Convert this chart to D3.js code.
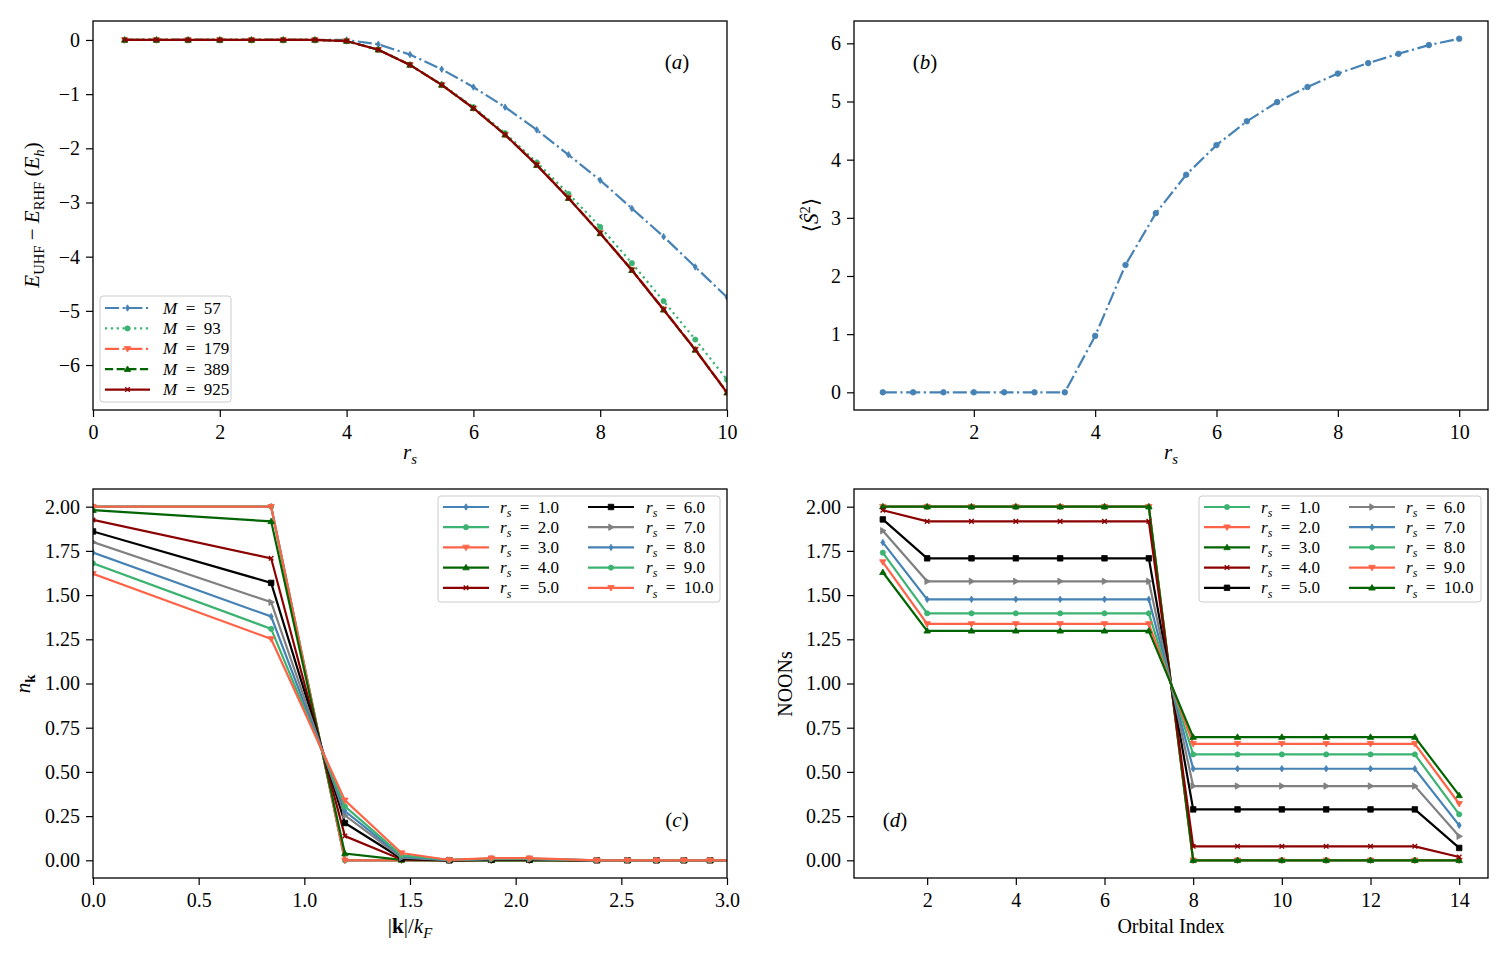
<!DOCTYPE html>
<html>
<head>
<meta charset="utf-8">
<script src="https://cdn.jsdelivr.net/npm/d3@7"></script>
<style>
	body { margin: 0; background: white; }
	text { font-family: 'Liberation Serif', 'DejaVu Serif', serif; fill: black; }
</style>
</head>
<body>
<script>
// ---- panel (a): E_UHF - E_RHF vs r_s for several basis sizes M
const rsA = [0.5, 1.0, 1.5, 2.0, 2.5, 3.0, 3.5, 4.0, 4.5, 5.0, 5.5, 6.0, 6.5, 7.0, 7.5, 8.0, 8.5, 9.0, 9.5, 10.0];
const dE_M57 = [0, 0, 0, 0, 0, 0, 0, 0, -0.08, -0.27, -0.54, -0.87, -1.24, -1.66, -2.12, -2.59, -3.11, -3.63, -4.19, -4.75];
const dE_M93 = [0, 0, 0, 0, 0, 0, 0, -0.02, -0.18, -0.46, -0.82, -1.24, -1.72, -2.26, -2.84, -3.45, -4.12, -4.82, -5.53, -6.27];
const dE_M179 = [0, 0, 0, 0, 0, 0, 0, -0.02, -0.18, -0.46, -0.83, -1.26, -1.75, -2.30, -2.91, -3.56, -4.24, -4.97, -5.71, -6.50];
const dE_M389 = [0, 0, 0, 0, 0, 0, 0, -0.02, -0.18, -0.46, -0.83, -1.26, -1.75, -2.31, -2.92, -3.57, -4.25, -4.98, -5.72, -6.51];
const dE_M925 = [0, 0, 0, 0, 0, 0, 0, -0.02, -0.18, -0.46, -0.83, -1.26, -1.75, -2.31, -2.92, -3.57, -4.25, -4.98, -5.72, -6.51];
const basisM = [57, 93, 179, 389, 925];

// ---- panel (b): <S^2> vs r_s
const s2 = [0, 0, 0, 0, 0, 0, 0, 0.97, 2.19, 3.08, 3.74, 4.25, 4.66, 4.99, 5.25, 5.48, 5.66, 5.82, 5.97, 6.08];

// ---- panel (c): momentum distribution n_k on the |k|/k_F shells
const kShell = [0, 0.843, 1.192, 1.460, 1.686, 1.885, 2.065, 2.384, 2.529, 2.666, 2.796, 2.920, 3.039];
const nk_rs1 = [2.00, 2.00, 0, 0, 0, 0, 0, 0, 0, 0, 0, 0, 0];
const nk_rs2 = [2.00, 2.00, 0, 0, 0, 0, 0, 0, 0, 0, 0, 0, 0];
const nk_rs3 = [2.00, 2.00, 0, 0, 0, 0, 0, 0, 0, 0, 0, 0, 0];
const nk_rs4 = [1.98, 1.917, 0.038, 0.002, 0, 0, 0, 0, 0, 0, 0, 0, 0];
const nk_rs5 = [1.925, 1.708, 0.137, 0.005, 0, 0.002, 0.002, 0, 0, 0, 0, 0, 0];
const nk_rs6 = [1.86, 1.569, 0.211, 0.010, 0, 0.004, 0.004, 0, 0, 0, 0, 0, 0];
const nk_rs7 = [1.80, 1.460, 0.254, 0.015, 0.001, 0.006, 0.006, 0, 0, 0, 0, 0, 0];
const nk_rs8 = [1.74, 1.379, 0.279, 0.022, 0.001, 0.008, 0.008, 0, 0, 0, 0, 0, 0];
const nk_rs9 = [1.68, 1.309, 0.305, 0.028, 0.002, 0.010, 0.010, 0, 0, 0, 0, 0, 0];
const nk_rs10 = [1.62, 1.252, 0.339, 0.041, 0.002, 0.012, 0.012, 0, 0, 0, 0, 0, 0];

// ---- panel (d): natural orbital occupation numbers
const orbIndex = [1, 2, 3, 4, 5, 6, 7, 8, 9, 10, 11, 12, 13, 14];
const noon_rs1 = [2, 2, 2, 2, 2, 2, 2, 0, 0, 0, 0, 0, 0, 0];
const noon_rs2 = [2, 2, 2, 2, 2, 2, 2, 0, 0, 0, 0, 0, 0, 0];
const noon_rs3 = [2, 2, 2, 2, 2, 2, 2, 0, 0, 0, 0, 0, 0, 0];
const noon_rs4 = [1.98, 1.917, 1.917, 1.917, 1.917, 1.917, 1.917, 0.079, 0.079, 0.079, 0.079, 0.079, 0.079, 0.019];
const noon_rs5 = [1.928, 1.708, 1.708, 1.708, 1.708, 1.708, 1.708, 0.288, 0.288, 0.288, 0.288, 0.288, 0.288, 0.070];
const noon_rs6 = [1.864, 1.578, 1.578, 1.578, 1.578, 1.578, 1.578, 0.420, 0.420, 0.420, 0.420, 0.420, 0.420, 0.136];
const noon_rs7 = [1.798, 1.476, 1.476, 1.476, 1.476, 1.476, 1.476, 0.518, 0.518, 0.518, 0.518, 0.518, 0.518, 0.198];
const noon_rs8 = [1.740, 1.397, 1.397, 1.397, 1.397, 1.397, 1.397, 0.599, 0.599, 0.599, 0.599, 0.599, 0.599, 0.260];
const noon_rs9 = [1.687, 1.337, 1.337, 1.337, 1.337, 1.337, 1.337, 0.659, 0.659, 0.659, 0.659, 0.659, 0.659, 0.320];
const noon_rs10 = [1.629, 1.298, 1.298, 1.298, 1.298, 1.298, 1.298, 0.697, 0.697, 0.697, 0.697, 0.697, 0.697, 0.367];

const rsLabels = ['1.0', '2.0', '3.0', '4.0', '5.0', '6.0', '7.0', '8.0', '9.0', '10.0'];

// colour / marker cycle used by the figure
const cycleColors = ['steelblue', 'mediumseagreen', 'tomato', 'darkgreen', 'darkred', 'black', 'gray'];
const cycleMarkers = ['d', '.', 'v', '^', 'x', 's', '>'];

const LW = 2.2;
const dashStyles = {
	'-': null,
	'-.': [6.4 * LW, 1.6 * LW, 1.0 * LW, 1.6 * LW].join(','),
	'--': [3.7 * LW, 1.6 * LW].join(','),
	':': [1.0 * LW, 1.65 * LW].join(',')
};
const EQ = '\u2002=\u2002';

const svg = d3.select('body').append('svg')
	.attr('width', 1511)
	.attr('height', 956);

function markerPath(type, s) {
	const h = s / 2;
	switch (type) {
		case 'd': return `M0,${-h}L${h * 0.62},0L0,${h}L${-h * 0.62},0Z`;
		case '.': {
			const r = h * 0.8;
			return `M${-r},0a${r},${r} 0 1,0 ${2 * r},0a${r},${r} 0 1,0 ${-2 * r},0Z`;
		}
		case 'v': return `M${-h},${-h * 0.7}L${h},${-h * 0.7}L0,${h}Z`;
		case '^': return `M${-h},${h * 0.7}L${h},${h * 0.7}L0,${-h}Z`;
		case '>': return `M${-h * 0.7},${-h}L${-h * 0.7},${h}L${h},0Z`;
		case 's': return `M${-h * 0.85},${-h * 0.85}H${h * 0.85}V${h * 0.85}H${-h * 0.85}Z`;
		case 'x': return `M${-h * 0.7},${-h * 0.7}L${h * 0.7},${h * 0.7}M${-h * 0.7},${h * 0.7}L${h * 0.7},${-h * 0.7}`;
	}
}

function drawMarker(g, type, color, cx, cy, size) {
	g.append('path')
		.attr('d', markerPath(type, size))
		.attr('transform', `translate(${cx},${cy})`)
		.attr('fill', type == 'x' ? 'none' : color)
		.attr('stroke', color)
		.attr('stroke-width', type == 'x' ? 1.4 : 0.8);
}

// text with italic / bold / sub / sup pieces, like matplotlib mathtext
function mathText(g, x, y, parts, size, anchor, rotate) {
	const t = g.append('text')
		.attr('x', x)
		.attr('y', y)
		.attr('font-size', size)
		.attr('text-anchor', anchor || 'middle');
	let shift = 0;
	parts.forEach(p => {
		let target = 0;
		if (p.sub) target = size * 0.25;
		if (p.sup) target = -size * 0.4;
		const ts = t.append('tspan').text(p.t).attr('dy', target - shift);
		shift = target;
		if (p.sub || p.sup) ts.attr('font-size', size * 0.7);
		if (p.i) ts.attr('font-style', 'italic');
		if (p.b) ts.attr('font-weight', 'bold');
	});
	if (rotate) t.attr('transform', `rotate(-90,${x},${y})`);
	return t;
}

let clipId = 0;

class Panel {
	constructor(box, xDomain, yDomain) {
		this.box = box;
		this.g = svg.append('g');
		this.x = d3.scaleLinear().domain(xDomain).range([box.left, box.right]);
		this.y = d3.scaleLinear().domain(yDomain).range([box.bottom, box.top]);
		clipId += 1;
		this.clip = 'clip' + clipId;
		this.g.append('clipPath').attr('id', this.clip)
			.append('rect')
			.attr('x', box.left).attr('y', box.top)
			.attr('width', box.right - box.left).attr('height', box.bottom - box.top);
		this.plot = this.g.append('g').attr('clip-path', `url(#${this.clip})`);
	}

	axes(xTicks, yTicks, xFmt, yFmt) {
		const xa = this.g.append('g')
			.attr('transform', `translate(0,${this.box.bottom})`)
			.call(d3.axisBottom(this.x).tickValues(xTicks).tickFormat(xFmt).tickSize(7).tickPadding(8));
		const ya = this.g.append('g')
			.attr('transform', `translate(${this.box.left},0)`)
			.call(d3.axisLeft(this.y).tickValues(yTicks).tickFormat(yFmt).tickSize(7).tickPadding(6));
		[xa, ya].forEach(a => {
			a.select('.domain').remove();
			a.selectAll('.tick line').attr('stroke', 'black').attr('stroke-width', 1.2);
			a.selectAll('.tick text')
				.attr('font-size', 20)
				.attr('font-family', "'Liberation Serif', serif")
				.attr('fill', 'black');
		});
	}

	series(xs, ys, color, marker, dash, msize) {
		const pts = xs.map((v, i) => [v, ys[i]]);
		const line = d3.line().x(d => this.x(d[0])).y(d => this.y(d[1]));
		this.plot.append('path')
			.datum(pts)
			.attr('d', line)
			.attr('fill', 'none')
			.attr('stroke', color)
			.attr('stroke-width', LW)
			.attr('stroke-dasharray', dashStyles[dash]);
		pts.forEach(d => drawMarker(this.plot, marker, color, this.x(d[0]), this.y(d[1]), msize));
	}

	frame() {
		this.g.append('rect')
			.attr('x', this.box.left).attr('y', this.box.top)
			.attr('width', this.box.right - this.box.left)
			.attr('height', this.box.bottom - this.box.top)
			.attr('fill', 'none')
			.attr('stroke', 'black')
			.attr('stroke-width', 1.3);
	}

	legendBox(x, y, w, h) {
		this.g.append('rect')
			.attr('x', x).attr('y', y).attr('width', w).attr('height', h)
			.attr('rx', 3)
			.attr('fill', 'white').attr('fill-opacity', 0.8)
			.attr('stroke', '#cccccc').attr('stroke-width', 1);
	}

	legendEntry(x0, x1, yRow, textX, color, marker, dash, parts, msize) {
		this.g.append('line')
			.attr('x1', x0).attr('x2', x1).attr('y1', yRow).attr('y2', yRow)
			.attr('stroke', color).attr('stroke-width', LW)
			.attr('stroke-dasharray', dashStyles[dash]);
		drawMarker(this.g, marker, color, (x0 + x1) / 2, yRow, msize);
		mathText(this.g, textX, yRow + 5.5, parts, 17, 'start');
	}

	tag(x, y, letter) {
		mathText(this.g, x, y, [{ t: '(' }, { t: letter, i: true }, { t: ')' }], 21, 'middle');
	}
}

const fmtInt = d3.format('d');

// ------------------------------------------------------------ (a)
const pa = new Panel({ left: 93, right: 727, top: 21, bottom: 410 }, [0, 10], [-6.83, 0.35]);
const aSeries = [dE_M57, dE_M93, dE_M179, dE_M389, dE_M925];
const aStyle = [
	['steelblue', 'd', '-.'],
	['mediumseagreen', '.', ':'],
	['tomato', 'v', '-.'],
	['darkgreen', '^', '--'],
	['darkred', 'x', '-']
];
aSeries.forEach((s, i) => pa.series(rsA, s, aStyle[i][0], aStyle[i][1], aStyle[i][2], 6.5));
pa.axes([0, 2, 4, 6, 8, 10], [0, -1, -2, -3, -4, -5, -6], fmtInt, fmtInt);
pa.frame();
pa.legendBox(100, 296, 131, 106);
basisM.forEach((m, i) => {
	const yRow = 308 + i * 20.4;
	pa.legendEntry(105, 150, yRow, 163, aStyle[i][0], aStyle[i][1], aStyle[i][2],
		[{ t: 'M', i: true }, { t: EQ + m }], 6.5);
});
pa.tag(677, 69, 'a');
mathText(pa.g, 410, 459, [{ t: 'r', i: true }, { t: 's', i: true, sub: true }], 21, 'middle');
mathText(pa.g, 39, 215, [
	{ t: 'E', i: true }, { t: 'UHF', sub: true }, { t: ' − ' },
	{ t: 'E', i: true }, { t: 'RHF', sub: true }, { t: ' (' },
	{ t: 'E', i: true }, { t: 'h', i: true, sub: true }, { t: ')' }
], 21, 'middle', true);

// ------------------------------------------------------------ (b)
const pb = new Panel({ left: 854, right: 1488, top: 21, bottom: 410 }, [0.025, 10.475], [-0.304, 6.384]);
pb.series(rsA, s2, 'steelblue', '.', '-.', 7);
pb.axes([2, 4, 6, 8, 10], [0, 1, 2, 3, 4, 5, 6], fmtInt, fmtInt);
pb.frame();
pb.tag(925, 69, 'b');
mathText(pb.g, 1171, 459, [{ t: 'r', i: true }, { t: 's', i: true, sub: true }], 21, 'middle');
mathText(pb.g, 818, 215, [{ t: '⟨' }, { t: '\u015C', i: true }, { t: '2', sup: true }, { t: '⟩' }], 21, 'middle', true);

// ------------------------------------------------------------ (c)
const pc = new Panel({ left: 93, right: 727, top: 489, bottom: 878 }, [0, 3], [-0.1, 2.1]);
const nkSeries = [nk_rs1, nk_rs2, nk_rs3, nk_rs4, nk_rs5, nk_rs6, nk_rs7, nk_rs8, nk_rs9, nk_rs10];
nkSeries.forEach((s, i) => {
	const c = i % 7;
	pc.series(kShell, s, cycleColors[c], cycleMarkers[c], '-', 6.5);
});
pc.axes([0, 0.5, 1.0, 1.5, 2.0, 2.5, 3.0], [0, 0.25, 0.5, 0.75, 1.0, 1.25, 1.5, 1.75, 2.0], d3.format('.1f'), d3.format('.2f'));
pc.frame();
pc.legendBox(438, 496, 282, 106);
rsLabels.forEach((lab, i) => {
	const c = i % 7;
	const col = Math.floor(i / 5);
	const yRow = 507 + (i % 5) * 20.2;
	const x0 = col == 0 ? 443 : 588;
	const tx = col == 0 ? 500 : 646;
	pc.legendEntry(x0, x0 + 46, yRow, tx, cycleColors[c], cycleMarkers[c], '-',
		[{ t: 'r', i: true }, { t: 's', i: true, sub: true }, { t: EQ + lab }], 6.5);
});
pc.tag(677, 827, 'c');
mathText(pc.g, 410, 933, [{ t: '|' }, { t: 'k', b: true }, { t: '|/' }, { t: 'k', i: true }, { t: 'F', i: true, sub: true }], 21, 'middle');
mathText(pc.g, 30, 684, [{ t: 'n', i: true }, { t: 'k', b: true, sub: true }], 21, 'middle', true);

// ------------------------------------------------------------ (d)
const pd = new Panel({ left: 854, right: 1488, top: 489, bottom: 878 }, [0.35, 14.65], [-0.1, 2.1]);
const noonSeries = [noon_rs1, noon_rs2, noon_rs3, noon_rs4, noon_rs5, noon_rs6, noon_rs7, noon_rs8, noon_rs9, noon_rs10];
noonSeries.forEach((s, i) => {
	const c = (i + 1) % 7;
	pd.series(orbIndex, s, cycleColors[c], cycleMarkers[c], '-', 6.5);
});
pd.axes([2, 4, 6, 8, 10, 12, 14], [0, 0.25, 0.5, 0.75, 1.0, 1.25, 1.5, 1.75, 2.0], fmtInt, d3.format('.2f'));
pd.frame();
pd.legendBox(1199, 496, 282, 106);
rsLabels.forEach((lab, i) => {
	const c = (i + 1) % 7;
	const col = Math.floor(i / 5);
	const yRow = 507 + (i % 5) * 20.2;
	const x0 = col == 0 ? 1204 : 1349;
	const tx = col == 0 ? 1261 : 1406;
	pd.legendEntry(x0, x0 + 46, yRow, tx, cycleColors[c], cycleMarkers[c], '-',
		[{ t: 'r', i: true }, { t: 's', i: true, sub: true }, { t: EQ + lab }], 6.5);
});
pd.tag(895, 827, 'd');
mathText(pd.g, 1171, 933, [{ t: 'Orbital Index' }], 20, 'middle');
mathText(pd.g, 792, 684, [{ t: 'NOONs' }], 20, 'middle', true);
</script>
</body>
</html>
